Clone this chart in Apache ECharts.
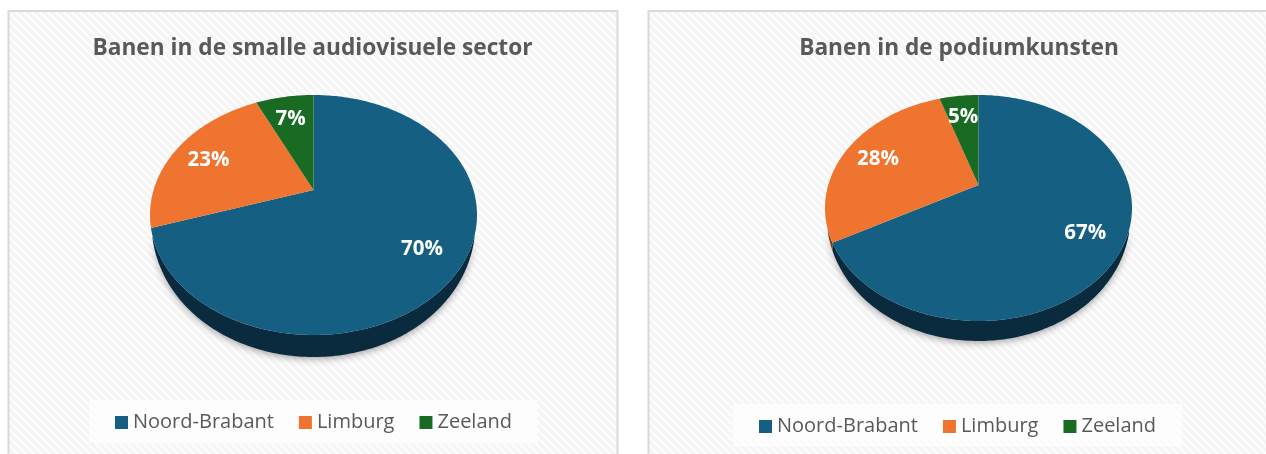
<!DOCTYPE html>
<html>
<head>
<meta charset="utf-8">
<style>html,body{margin:0;padding:0;background:#fff}#c{width:1266px;height:454px}</style>
<script src="https://cdn.jsdelivr.net/npm/echarts@6/dist/echarts.min.js"></script>
</head>
<body>
<div id="c"></div>
<script>
const categories = ['Noord-Brabant', 'Limburg', 'Zeeland'];
const audiovisualShare = [70, 23, 7];
const podiumShare = [67, 28, 5];
const titleAudiovisual = 'Banen in de smalle audiovisuele sector';
const titlePodium = 'Banen in de podiumkunsten';

const topColors = ['#156082', '#EE7430', '#196B24'];
const sideColors = ['#0A2A3E', '#7A3A18', '#0C3512'];

// Tilted-pie projection of each panel: apex position, half-extents, perspective and rim depth.
const views = [
  { cx: 313.5, cy: 190, up: 95, down: 145, halfW: 163.5, depth: 22 },
  { cx: 978.5, cy: 185, up: 90, down: 136, halfW: 153.5, depth: 20 }
];
views.forEach(v => {
  v.k = (v.down - v.up) / (v.down + v.up);
  v.B = v.up * (1 + v.k);
  v.A = v.halfW * Math.sqrt(1 - v.k * v.k);
  v.rimTop = v.cy + (v.down - v.up) / 2 + 20;
  v.rimBottom = v.cy + v.down;
});
function project(v, theta, r) {
  const s = Math.sin(theta) * r, c = Math.cos(theta) * r, w = 1 + v.k * c;
  return [v.cx + v.A * s / w, v.cy - v.B * c / w];
}

function makeRenderer(view, values, idx) {
  const total = values.reduce((a, b) => a + b, 0);
  const before = values.slice(0, idx).reduce((a, b) => a + b, 0);
  return function (params, api) {
    const a0 = before / total * 2 * Math.PI;
    const a1 = (before + api.value(0)) / total * 2 * Math.PI;
    const steps = Math.max(12, Math.round((a1 - a0) * 60));
    const arc = [];
    for (let i = 0; i <= steps; i++) arc.push(project(view, a0 + (a1 - a0) * i / steps, 1));
    const front = arc.filter(p => p[1] >= view.rimTop);
    const children = [];
    if (front.length > 1) {
      const lower = front.map(p => {
        const t = (p[1] - view.rimTop) / (view.rimBottom - view.rimTop);
        return [p[0], p[1] + view.depth * Math.sqrt(t)];
      });
      children.push({
        type: 'polygon',
        shape: { points: front.concat(lower.reverse()) },
        style: {
          fill: sideColors[idx],
          shadowBlur: 7, shadowColor: 'rgba(0,0,0,0.35)', shadowOffsetY: 2
        }
      });
    }
    children.push({
      type: 'polygon',
      shape: { points: [project(view, 0, 0)].concat(arc) },
      style: { fill: topColors[idx] }
    });
    const lp = project(view, (a0 + a1) / 2, 0.76);
    children.push({
      type: 'text',
      z2: 10,
      style: {
        text: Math.round(api.value(0)) + '%',
        x: lp[0], y: lp[1] + 3,
        align: 'center', verticalAlign: 'middle',
        fill: '#fff',
        font: 'bold 20.5px "Open Sans", sans-serif'
      }
    });
    return { type: 'group', children };
  };
}

const panelData = [audiovisualShare, podiumShare];
const series = [];
panelData.forEach((vals, p) => {
  vals.forEach((val, i) => {
    series.push({
      type: 'custom',
      name: categories[i],
      coordinateSystem: 'none',
      silent: true,
      animation: false,
      itemStyle: { color: topColors[i] },
      data: [[val]],
      renderItem: makeRenderer(views[p], vals, i)
    });
  });
});

// Faint diagonal hatching of the panels
const tile = document.createElement('canvas');
tile.width = tile.height = 8;
const g = tile.getContext('2d');
g.fillStyle = '#fcfcfc';
g.fillRect(0, 0, 8, 8);
g.strokeStyle = '#f4f4f4';
g.lineWidth = 2.8;
[[-8, -8, 16, 16], [-8, 0, 8, 16], [0, -8, 16, 8]].forEach(l => {
  g.beginPath(); g.moveTo(l[0], l[1]); g.lineTo(l[2], l[3]); g.stroke();
});
const hatch = { image: tile, repeat: 'repeat' };

function panel(x, w) {
  return {
    type: 'rect', z: -10, silent: true,
    shape: { x: x, y: 11, width: w, height: 480 },
    style: { fill: hatch, stroke: '#d9d9d9', lineWidth: 2 }
  };
}

const legendText = { color: '#595959', fontSize: 20, fontFamily: '"Open Sans", sans-serif', lineHeight: 23 };
const titleText = { color: '#595959', fontSize: 22.7, fontWeight: 'bold', fontFamily: '"Open Sans", sans-serif' };

const chart = echarts.init(document.getElementById('c'), null, { renderer: 'canvas' });
chart.setOption({
  animation: false,
  backgroundColor: '#fff',
  graphic: [panel(8.5, 609), panel(648.5, 640)],
  title: [
    { text: titleAudiovisual, left: 312.5, top: 37, textAlign: 'center', textStyle: titleText, padding: 0 },
    { text: titlePodium, left: 959, top: 37, textAlign: 'center', textStyle: titleText, padding: 0 }
  ],
  legend: [
    {
      data: categories, left: 89, top: 400, padding: [11, 26, 9, 26],
      orient: 'horizontal', icon: 'rect', itemWidth: 13, itemHeight: 13, itemGap: 25,
      selectedMode: false, backgroundColor: 'rgba(255,255,255,0.7)', textStyle: legendText
    },
    {
      data: categories, left: 733, top: 404, padding: [11, 26, 9, 26],
      orient: 'horizontal', icon: 'rect', itemWidth: 13, itemHeight: 13, itemGap: 25,
      selectedMode: false, backgroundColor: 'rgba(255,255,255,0.7)', textStyle: legendText
    }
  ],
  series: series
});
</script>
</body>
</html>
